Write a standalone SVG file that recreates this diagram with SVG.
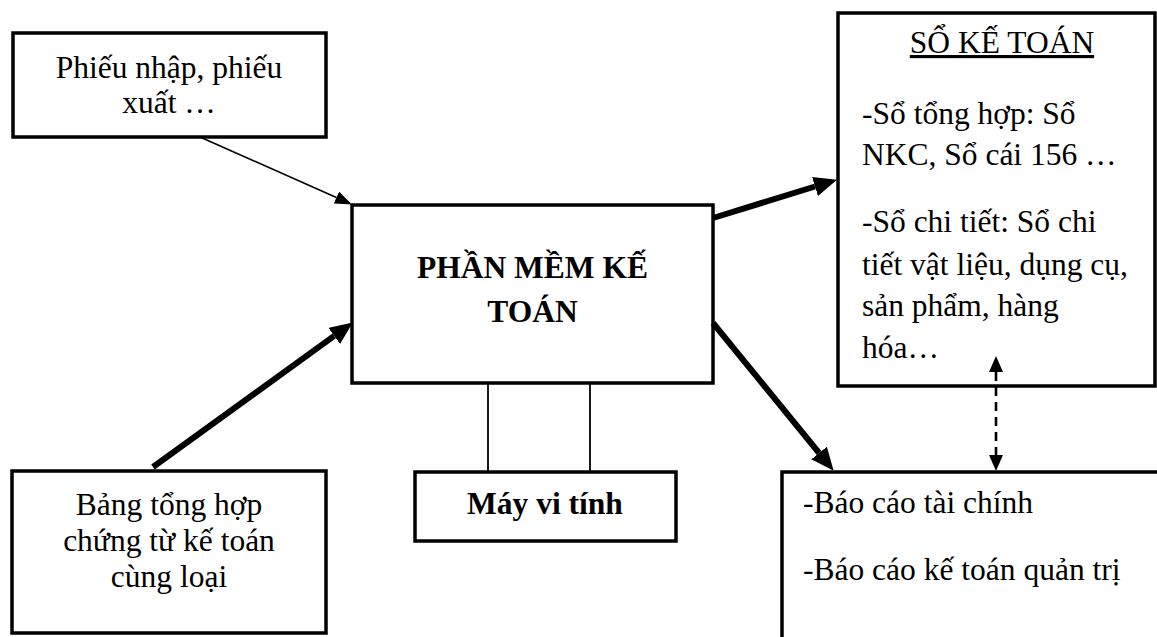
<svg xmlns="http://www.w3.org/2000/svg" width="1157" height="637" viewBox="0 0 1157 637">
  <style>
    .box { fill: #fff; stroke: #000; stroke-width: 3.5; }
    .t { font-family: "Liberation Serif", "Times New Roman", serif; font-size: 31.5px; fill: #000; }
    .b { font-weight: bold; }
    .c { text-anchor: middle; }
    .thin { stroke: #000; stroke-width: 1.6; fill: none; }
    .thick { stroke: #000; stroke-width: 6; fill: none; }
    .link { stroke: #000; stroke-width: 1.8; fill: none; }
    .dash { stroke: #000; stroke-width: 2.6; fill: none; stroke-dasharray: 9 6; }
  </style>
  <defs>
    <marker id="headThin" markerUnits="userSpaceOnUse" markerWidth="17" markerHeight="13" refX="0" refY="6.5" orient="auto">
      <path d="M0,0 L17,6.5 L0,13 z" fill="#000"/>
    </marker>
    <marker id="headThick" markerUnits="userSpaceOnUse" markerWidth="23" markerHeight="20" refX="0" refY="10" orient="auto">
      <path d="M0,0 L23,10 L0,20 z" fill="#000"/>
    </marker>
    <marker id="headDash" markerUnits="userSpaceOnUse" markerWidth="16" markerHeight="14" refX="0" refY="7" orient="auto-start-reverse">
      <path d="M0,0 L16,7 L0,14 z" fill="#000"/>
    </marker>
  </defs>

  <rect width="1157" height="637" fill="#fff"/>

  <!-- source documents -->
  <g id="phieu">
    <rect class="box" x="13" y="33" width="313" height="104"/>
    <text class="t c" x="169" y="78">Phiếu nhập, phiếu</text>
    <text class="t c" x="169" y="113">xuất …</text>
  </g>

  <!-- accounting software -->
  <g id="phanmem">
    <rect class="box" x="352" y="205" width="361" height="178"/>
    <text class="t b c" x="532.5" y="278">PHẦN MỀM KẾ</text>
    <text class="t b c" x="532.5" y="322">TOÁN</text>
  </g>

  <!-- computer -->
  <g id="mayvitinh">
    <rect class="box" x="415" y="472" width="261" height="69"/>
    <text class="t b c" x="545" y="514">Máy vi tính</text>
  </g>

  <!-- summary of vouchers -->
  <g id="bangtonghop">
    <rect class="box" x="12" y="471" width="314" height="162"/>
    <text class="t c" x="169" y="515">Bảng tổng hợp</text>
    <text class="t c" x="169" y="551">chứng từ kế toán</text>
    <text class="t c" x="169" y="587">cùng loại</text>
  </g>

  <!-- accounting books -->
  <g id="soketoan">
    <rect class="box" x="838" y="13" width="317" height="373"/>
    <text class="t c" x="1002" y="53" text-decoration="underline">SỔ KẾ TOÁN</text>
    <text class="t" x="862" y="124">-Sổ tổng hợp: Sổ</text>
    <text class="t" x="862" y="165">NKC, Sổ cái 156 …</text>
    <text class="t" x="862" y="232">-Sổ chi tiết: Sổ chi</text>
    <text class="t" x="862" y="275">tiết vật liệu, dụng cụ,</text>
    <text class="t" x="862" y="316">sản phẩm, hàng</text>
    <text class="t" x="862" y="358">hóa…</text>
  </g>

  <!-- reports -->
  <g id="baocao">
    <rect class="box" x="782" y="472" width="400" height="200"/>
    <text class="t" x="803" y="513">-Báo cáo tài chính</text>
    <text class="t" x="803" y="580">-Báo cáo kế toán quản trị</text>
  </g>

  <!-- connectors -->
  <g id="connectors">
    <line class="thin" x1="200" y1="137" x2="336.4" y2="197.5" marker-end="url(#headThin)"/>
    <line class="thick" x1="153" y1="467" x2="334.2" y2="335.9" marker-end="url(#headThick)"/>
    <line class="thick" x1="713" y1="218" x2="815" y2="186.5" marker-end="url(#headThick)"/>
    <line class="thick" x1="713" y1="323" x2="819.1" y2="453" marker-end="url(#headThick)"/>
    <line class="link" x1="488" y1="383" x2="488" y2="472"/>
    <line class="link" x1="590" y1="383" x2="590" y2="472"/>
    <line class="dash" x1="996" y1="372" x2="996" y2="455" marker-start="url(#headDash)" marker-end="url(#headDash)"/>
  </g>
</svg>
